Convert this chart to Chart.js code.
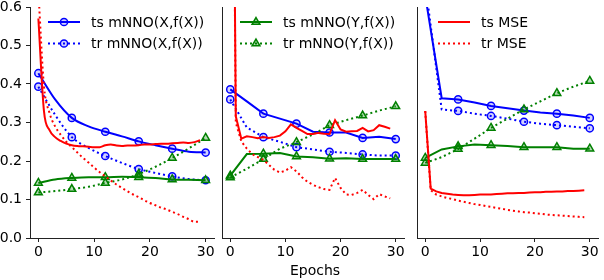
<!DOCTYPE html>
<html>
<head>
<meta charset="utf-8">
<script src="https://cdn.jsdelivr.net/npm/chart.js@4.4.1/dist/chart.umd.min.js"></script>
<style>
  body { margin: 0; background: #fff; }
  #wrap { position: relative; width: 604px; height: 280px; overflow: hidden; }
  canvas { position: absolute; top: 0; }
  #xlabel { position: absolute; left: 215px; width: 200px; top: 263px; text-align: center;
            font: 14px 'DejaVu Sans'; line-height: 14px; color: #000; }
</style>
</head>
<body>
<div id="wrap">
  <canvas id="c1" width="220" height="280" style="left:0px"></canvas>
  <canvas id="c2" width="200" height="280" style="left:210px"></canvas>
  <canvas id="c3" width="199" height="280" style="left:405px"></canvas>
  <div id="xlabel">Epochs</div>
</div>
<script>
// axes
const xTicks = [0, 10, 20, 30];
const yTicks = [0, 0.1, 0.2, 0.3, 0.4, 0.5, 0.6];

// mNNO is logged every 3 epochs, MSE every epoch
const nnoEpochs = [0, 3, 6, 9, 12, 15, 18, 21, 24, 27, 30];
const mseEpochs = [0, 1, 2, 3, 4, 5, 6, 7, 8, 9, 10, 11, 12, 13, 14, 15, 16, 17, 18, 19,
                   20, 21, 22, 23, 24, 25, 26, 27, 28, 29];

// panel 1
const p1TsNnoX = [0.428, 0.360, 0.312, 0.290, 0.276, 0.264, 0.251, 0.241, 0.232, 0.224, 0.222];
const p1TrNnoX = [0.393, 0.320, 0.262, 0.234, 0.213, 0.195, 0.179, 0.169, 0.160, 0.153, 0.150];
const p1TsNnoY = [0.143, 0.152, 0.156, 0.158, 0.158, 0.159, 0.158, 0.156, 0.152, 0.151, 0.150];
const p1TrNnoY = [0.118, 0.122, 0.127, 0.133, 0.143, 0.152, 0.166, 0.185, 0.208, 0.233, 0.260];
const p1TsMse = [0.570, 0.330, 0.280, 0.262, 0.252, 0.245, 0.241, 0.239, 0.238, 0.237,
                 0.236, 0.236, 0.241, 0.243, 0.240, 0.239, 0.240, 0.240, 0.241, 0.243,
                 0.243, 0.244, 0.245, 0.245, 0.246, 0.247, 0.248, 0.247, 0.249, 0.254];
const p1TrMse = [0.640, 0.395, 0.325, 0.290, 0.268, 0.250, 0.236, 0.222, 0.208, 0.196,
                 0.183, 0.171, 0.160, 0.149, 0.139, 0.130, 0.121, 0.113, 0.106, 0.098,
                 0.091, 0.085, 0.079, 0.074, 0.068, 0.062, 0.055, 0.049, 0.042, 0.042];

// panel 2
const p2TsNnoX = [0.386, 0.355, 0.323, 0.310, 0.297, 0.276, 0.274, 0.274, 0.260, 0.263, 0.257];
const p2TrNnoX = [0.360, 0.287, 0.262, 0.250, 0.236, 0.230, 0.224, 0.221, 0.217, 0.214, 0.214];
const p2TsNnoY = [0.162, 0.218, 0.219, 0.221, 0.212, 0.210, 0.206, 0.207, 0.205, 0.205, 0.205];
const p2TrNnoY = [0.157, 0.180, 0.205, 0.232, 0.249, 0.269, 0.293, 0.306, 0.318, 0.331, 0.342];
const p2TsMse = [2.200, 0.316, 0.258, 0.264, 0.262, 0.259, 0.262, 0.260, 0.262, 0.266,
                 0.277, 0.295, 0.286, 0.278, 0.270, 0.270, 0.273, 0.271, 0.270, 0.306,
                 0.282, 0.276, 0.277, 0.278, 0.286, 0.277, 0.280, 0.293, 0.289, 0.284];
const p2TrMse = [2.100, 0.300, 0.251, 0.232, 0.218, 0.210, 0.203, 0.190, 0.177, 0.170,
                 0.175, 0.184, 0.173, 0.158, 0.146, 0.138, 0.132, 0.127, 0.125, 0.156,
                 0.130, 0.113, 0.112, 0.117, 0.125, 0.112, 0.101, 0.114, 0.108, 0.103];

// panel 3
const p3TsNnoX = [0.630, 0.363, 0.360, 0.352, 0.343, 0.337, 0.331, 0.326, 0.323, 0.318, 0.312];
const p3TrNnoX = [0.660, 0.334, 0.330, 0.323, 0.317, 0.310, 0.302, 0.297, 0.293, 0.289, 0.285];
const p3TsNnoY = [0.208, 0.230, 0.238, 0.243, 0.241, 0.239, 0.236, 0.236, 0.236, 0.232, 0.232];
const p3TrNnoY = [0.195, 0.210, 0.231, 0.258, 0.286, 0.310, 0.334, 0.355, 0.376, 0.393, 0.408];
const p3TsMse = [0.330, 0.128, 0.121, 0.117, 0.115, 0.113, 0.112, 0.111, 0.111, 0.112,
                 0.113, 0.113, 0.113, 0.114, 0.115, 0.116, 0.116, 0.117, 0.117, 0.118,
                 0.119, 0.119, 0.120, 0.120, 0.121, 0.121, 0.122, 0.122, 0.123, 0.124];
const p3TrMse = [0.330, 0.124, 0.113, 0.108, 0.104, 0.101, 0.097, 0.094, 0.091, 0.088,
                 0.086, 0.083, 0.081, 0.078, 0.076, 0.073, 0.071, 0.069, 0.067, 0.066,
                 0.064, 0.063, 0.061, 0.060, 0.059, 0.058, 0.057, 0.056, 0.055, 0.054];

const BLUE = '#0000ff', GREEN = '#008000', RED = '#ff0000';
const FONT = "'DejaVu Sans'";
const DOT = [2, 3];

function pts(xs, ys) {
    return xs.map((x, i) => ({ x: x, y: ys[i] }));
}

function makeSet(label, xs, ys, color, dotted, marker) {
    const fill = color === BLUE ? 'rgba(0,0,255,0.18)' : 'rgba(0,128,0,0.3)';
    return {
        label: label,
        data: pts(xs, ys),
        borderColor: color,
        backgroundColor: marker ? fill : color,
        borderWidth: 2,
        borderDash: dotted ? DOT : [],
        borderCapStyle: 'butt',
        pointStyle: marker || 'circle',
        // marker on every other logged point (every 6 epochs)
        pointRadius: marker ? (c => c.dataIndex % 2 ? 0 : (marker === 'triangle' ? 4.5 : 3.6)) : 0,
        pointBorderWidth: 1.5,
        pointBorderColor: color,
        pointBackgroundColor: fill,
        clip: 0
    };
}

// draw a matplotlib-like legend: line sample, marker, label
const miniLegend = {
    id: 'miniLegend',
    afterDraw(chart, args, opts) {
        const ctx = chart.ctx;
        const a = chart.chartArea;
        opts.items.forEach((idx, row) => {
            const ds = chart.data.datasets[idx];
            const y = a.top + 15 + row * 21.5;
            const x0 = a.left + opts.offset;
            ctx.save();
            ctx.strokeStyle = ds.borderColor;
            ctx.lineWidth = 2;
            ctx.setLineDash(ds.borderDash);
            ctx.beginPath();
            ctx.moveTo(x0, y);
            ctx.lineTo(x0 + 32, y);
            ctx.stroke();
            ctx.setLineDash([]);
            if (ds.borderColor !== RED) {
                ctx.fillStyle = ds.pointBackgroundColor;
                ctx.strokeStyle = ds.borderColor;
                ctx.lineWidth = 1.5;
                Chart.helpers.drawPoint(ctx, {
                    pointStyle: ds.pointStyle,
                    radius: ds.pointStyle === 'triangle' ? 4.5 : 3.6,
                    borderWidth: 1.5,
                    rotation: 0
                }, x0 + 16, y);
            }
            ctx.fillStyle = '#000';
            ctx.font = '14px ' + FONT;
            ctx.textBaseline = 'middle';
            ctx.textAlign = 'left';
            ctx.fillText(ds.label, x0 + 43, y + 1);
            ctx.restore();
        });
    }
};

function buildPanel(canvasId, d, opt) {
    const mono = opt.smooth ? 'monotone' : 'default';
    const sets = [
        makeSet('ts MSE', mseEpochs, d.tsMse, RED, false, null),
        makeSet('tr MSE', mseEpochs, d.trMse, RED, true, null),
        makeSet('ts mNNO(Y,f(X))', nnoEpochs, d.tsY, GREEN, false, 'triangle'),
        makeSet('tr mNNO(Y,f(X))', nnoEpochs, d.trY, GREEN, true, 'triangle'),
        makeSet('ts mNNO(X,f(X))', nnoEpochs, d.tsX, BLUE, false, 'circle'),
        makeSet('tr mNNO(X,f(X))', nnoEpochs, d.trX, BLUE, true, 'circle')
    ];
    sets.forEach(s => { s.cubicInterpolationMode = mono; s.tension = opt.smooth ? 0.4 : 0; });

    return new Chart(document.getElementById(canvasId), {
        type: 'line',
        data: { datasets: sets },
        options: {
            responsive: false,
            animation: false,
            devicePixelRatio: 1,
            layout: { padding: { left: opt.padLeft, right: opt.padRight, top: 7, bottom: 0 } },
            plugins: {
                legend: { display: false },
                tooltip: { enabled: false },
                miniLegend: { items: opt.legend, offset: opt.legendOffset }
            },
            scales: {
                x: {
                    type: 'linear',
                    min: -1.5,
                    max: 31.5,
                    afterBuildTicks: s => { s.ticks = xTicks.map(v => ({ value: v })); },
                    afterFit: s => { s.height = 42; s.paddingLeft = 0; s.paddingRight = 0; },
                    ticks: { color: '#000', font: { family: FONT, size: 14 }, padding: 2,
                             maxRotation: 0, callback: v => String(v) },
                    grid: { display: true, drawOnChartArea: false, drawTicks: true, tickLength: 4,
                            color: '#222', lineWidth: 1 },
                    border: { display: true, color: '#222', width: 1 }
                },
                y: {
                    type: 'linear',
                    min: 0,
                    max: 0.6,
                    afterBuildTicks: s => { s.ticks = yTicks.map(v => ({ value: v })); },
                    afterFit: s => { s.width = opt.yWidth; s.paddingTop = 0; s.paddingBottom = 0; },
                    ticks: { display: opt.yLabels, color: '#000', font: { family: FONT, size: 14 },
                             padding: 4, callback: v => v.toFixed(1) },
                    grid: { display: opt.yLabels, drawOnChartArea: false, drawTicks: true, tickLength: 4,
                            color: '#222', lineWidth: 1 },
                    border: { display: true, color: '#222', width: 1 }
                }
            }
        },
        plugins: [miniLegend]
    });
}

buildPanel('c1',
    { tsX: p1TsNnoX, trX: p1TrNnoX, tsY: p1TsNnoY, trY: p1TrNnoY, tsMse: p1TsMse, trMse: p1TrMse },
    { smooth: true, yLabels: true, yWidth: 30, padLeft: 0, padRight: 4, legend: [4, 5], legendOffset: 18 });
buildPanel('c2',
    { tsX: p2TsNnoX, trX: p2TrNnoX, tsY: p2TsNnoY, trY: p2TrNnoY, tsMse: p2TsMse, trMse: p2TrMse },
    { smooth: false, yLabels: false, yWidth: 12, padLeft: 0, padRight: 1, legend: [2, 3], legendOffset: 18 });
buildPanel('c3',
    { tsX: p3TsNnoX, trX: p3TrNnoX, tsY: p3TsNnoY, trY: p3TrNnoY, tsMse: p3TsMse, trMse: p3TrMse },
    { smooth: false, yLabels: false, yWidth: 12, padLeft: 0, padRight: 2, legend: [0, 1], legendOffset: 21 });
</script>
</body>
</html>
